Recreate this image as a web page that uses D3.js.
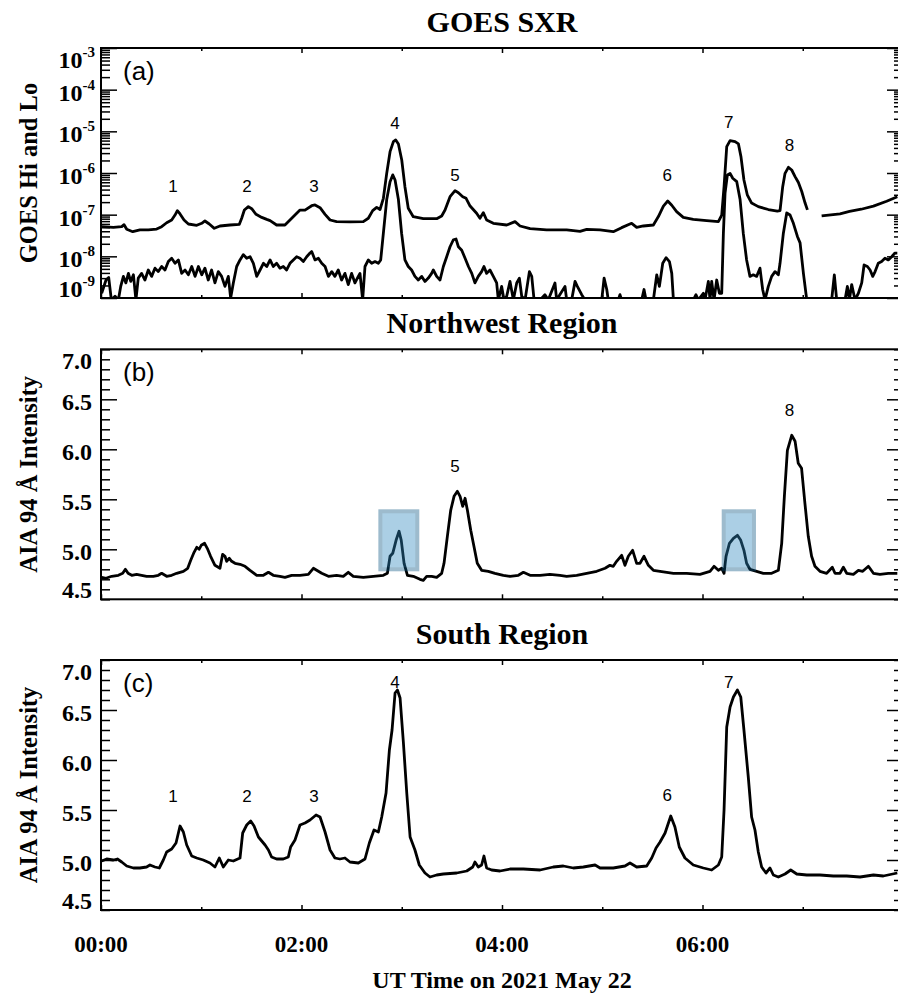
<!DOCTYPE html>
<html>
<head>
<meta charset="utf-8">
<script src="https://cdn.jsdelivr.net/npm/d3@7"></script>
<style>
    body { margin: 0; background: #ffffff; }
    svg text { font-family: "Liberation Serif", "Times New Roman", serif; }
</style>
</head>
<body>
<svg id="chart" width="898" height="994"></svg>
<script>
//Time axis (minutes after 00:00 UT)
const timeDomain = [0, 480];
const evenHourTicks = [0, 120, 240, 360, 480];
const oddHourTicks = [60, 180, 300, 420];
const timeLabels = ["00:00", "02:00", "04:00", "06:00"];

//GOES 1-8 A (upper curve), [minute, W m^-2], null = data gap
const goesLo = [[0.0,5.15e-8],[7.4,4.97e-8],[12.4,5.15e-8],[13.8,5.75e-8],[15.4,4.45e-8],[19.0,3.9e-8],[23.3,4.3e-8],[28.3,4.3e-8],
    [33.3,4.5e-8],[36.3,5.15e-8],[39.3,6.4e-8],[42.3,7.45e-8],[44.3,9.8e-8],[45.7,1.25e-7],[47.3,1.04e-7],[49.7,7.45e-8],
    [52.3,5.97e-8],[57.3,5.55e-8],[60.3,6.2e-8],[62.2,7.05e-8],[64.8,5.97e-8],[67.8,4.7e-8],[71.2,5.35e-8],[77.2,5.65e-8],
    [82.8,5.86e-8],[84.2,8.2e-8],[85.8,1.29e-7],[88.2,1.56e-7],[90.2,1.39e-7],[92.8,1.02e-7],[96.2,8.6e-8],[99.2,7.7e-8],
    [101.2,7.2e-8],[105.1,5.65e-8],[110.1,5.65e-8],[113.1,7.45e-8],[116.1,9.8e-8],[119.1,1.29e-7],[122.1,1.29e-7],[126.1,1.64e-7],
    [128.1,1.71e-7],[131.1,1.47e-7],[134.1,1.02e-7],[137.1,7.45e-8],[141.0,6.8e-8],[149.0,6.7e-8],[157.0,6.8e-8],[160.0,8.2e-8],
    [162.6,1.25e-7],[165.0,1.5e-7],[167.0,1.33e-7],[169.0,2.47e-7],[171.0,9.8e-7],[173.0,3.25e-6],[175.0,5.65e-6],[176.4,6.2e-6],
    [178.0,4.97e-6],[180.0,2.05e-6],[181.9,4.7e-7],[183.9,1.42e-7],[186.9,8.95e-8],[192.9,8.0e-8],[200.9,8.0e-8],[203.9,9.3e-8],
    [205.9,1.29e-7],[208.9,2.7e-7],[211.9,3.77e-7],[213.9,3.37e-7],[216.5,2.7e-7],[218.5,2.47e-7],[220.9,1.61e-7],[224.8,1.08e-7],
    [226.8,8.2e-8],[228.8,1.12e-7],[230.8,7.45e-8],[234.8,6.2e-8],[242.8,5.65e-8],[247.8,6.8e-8],[250.8,5.35e-8],[256.8,4.6e-8],
    [266.7,4.3e-8],[278.7,4.3e-8],[286.7,3.98e-8],[290.7,4.45e-8],[298.7,4.3e-8],[306.6,3.9e-8],[311.6,4.88e-8],[317.6,6.2e-8],
    [320.6,4.97e-8],[324.6,5.35e-8],[330.6,5.65e-8],[333.6,9.0e-8],[336.6,1.61e-7],[339.2,2.13e-7],[341.6,1.68e-7],[344.5,1.18e-7],
    [348.5,8.6e-8],[354.5,7.7e-8],[362.5,7.2e-8],[369.5,6.8e-8],[371.5,9.8e-8],[372.9,4.7e-7],[374.5,4.29e-6],[376.5,5.97e-6],
    [379.5,5.65e-6],[381.5,5.0e-6],[383.0,2.5e-6],[384.8,6.8e-7],[386.8,3.0e-7],[389.4,1.9e-7],[393.4,1.56e-7],[399.4,1.33e-7],
    [404.8,1.22e-7],[406.4,1.25e-7],[408.0,4.7e-7],[409.4,9.8e-7],[411.4,1.37e-6],[413.4,1.18e-6],[415.4,8.2e-7],[417.4,5.9e-7],
    [419.4,3.6e-7],[421.4,1.9e-7],[422.8,1.3e-7],[426.0,null],[431.3,9.3e-8],[442.3,1.05e-7],[448.0,1.2e-7],[455.0,1.35e-7],
    [462.3,1.6e-7],[470.2,2.1e-7],[476.6,2.7e-7]];

//GOES 0.5-4 A (lower curve), [minute, W m^-2], null = data gap
const goesHi = [[0.4,1.3e-9],[3.0,2.7e-9],[4.6,3.1e-9],[6.2,9e-10],[8.4,1.1e-9],[10.4,9e-10],[11.8,1.9e-9],[13.4,3.3e-9],
    [14.9,2.3e-9],[16.4,3.9e-9],[17.8,2.5e-9],[19.4,3.6e-9],[20.9,9e-10],[22.3,3.0e-9],[24.3,3.9e-9],[26.3,2.7e-9],[28.3,4.7e-9],
    [30.3,3.3e-9],[32.3,5.2e-9],[34.3,4.3e-9],[36.3,5.7e-9],[38.3,4.7e-9],[40.3,7.5e-9],[42.3,9.0e-9],[44.3,6.8e-9],[46.3,8.2e-9],
    [48.3,3.9e-9],[50.3,4.7e-9],[52.3,3.6e-9],[54.3,5.7e-9],[56.3,3.3e-9],[58.3,5.7e-9],[60.3,3.6e-9],[62.2,5.2e-9],[64.2,2.7e-9],
    [66.2,4.7e-9],[68.2,2.3e-9],[70.2,4.3e-9],[72.2,3.3e-9],[74.2,1.9e-9],[76.2,3.3e-9],[77.6,1.0e-9],[79.2,2.3e-9],[81.2,5.7e-9],
    [83.2,8.2e-9],[85.2,1.1e-8],[87.2,9.0e-9],[89.2,9.8e-9],[91.2,6.8e-9],[93.2,3.3e-9],[95.2,4.7e-9],[97.2,6.8e-9],[99.2,5.7e-9],
    [101.2,8.2e-9],[103.1,5.7e-9],[105.1,6.8e-9],[107.1,5.2e-9],[109.1,5.7e-9],[111.1,4.7e-9],[113.1,6.8e-9],[115.1,8.2e-9],
    [117.1,9.8e-9],[119.1,9.0e-9],[121.1,7.5e-9],[123.1,9.8e-9],[125.1,1.2e-8],[126.1,1.3e-8],[128.1,8.2e-9],[130.1,9.0e-9],
    [132.1,6.8e-9],[134.1,5.7e-9],[136.1,3.3e-9],[138.1,4.3e-9],[140.0,3.3e-9],[142.0,4.7e-9],[144.0,2.7e-9],[146.0,3.9e-9],
    [148.0,2.1e-9],[150.0,3.9e-9],[152.0,2.3e-9],[154.0,3.3e-9],[155.0,3.9e-9],[156.6,9e-10],[158.0,5.7e-9],[160.0,8.2e-9],
    [162.0,6.8e-9],[164.0,7.5e-9],[166.0,6.8e-9],[167.4,8.2e-9],[169.0,3.6e-8],[171.0,2.3e-7],[173.0,6.2e-7],[174.6,9.0e-7],
    [176.0,6.8e-7],[178.0,2.3e-7],[179.9,3.6e-8],[181.9,8.2e-9],[183.9,5.7e-9],[185.9,4.7e-9],[187.9,3.3e-9],[189.9,2.7e-9],
    [191.9,3.3e-9],[193.9,2.5e-9],[195.9,3.0e-9],[197.9,3.9e-9],[198.9,4.7e-9],[200.9,3.3e-9],[202.9,2.7e-9],[204.9,5.7e-9],
    [206.9,9.8e-9],[208.9,1.7e-8],[210.9,2.5e-8],[212.5,2.6e-8],[213.9,1.7e-8],[215.9,1.4e-8],[217.9,9.0e-9],[219.9,5.7e-9],
    [221.9,3.9e-9],[223.8,2.3e-9],[225.8,3.3e-9],[227.8,4.3e-9],[229.2,5.7e-9],[230.8,3.9e-9],[232.8,4.7e-9],[234.8,3.3e-9],
    [236.8,2.3e-9],[237.8,9e-10],[239.8,1.9e-9],[241.2,9e-10],[242.8,1.1e-9],[244.8,2.5e-9],[246.8,9e-10],[248.8,2.3e-9],
    [250.4,3.0e-9],[251.8,1.1e-9],[253.8,9e-10],[256.4,4.3e-9],[257.8,3.3e-9],[259.2,9e-10],[262.8,9e-10],[265.7,1.2e-9],
    [267.7,9e-10],[271.7,2.3e-9],[272.7,9e-10],[277.7,1.9e-9],[278.7,9e-10],[281.7,9e-10],[283.7,2.5e-9],[285.1,1.9e-9],
    [287.7,1.2e-9],[289.7,9e-10],[299.7,9e-10],[301.1,3.0e-9],[302.7,1.6e-9],[303.6,9e-10],[309.6,9e-10],[310.6,1.2e-9],
    [311.6,9e-10],[323.6,9e-10],[325.0,1.6e-9],[326.2,9e-10],[330.6,9e-10],[332.6,3.6e-9],[334.2,1.9e-9],[336.2,6.8e-9],
    [338.2,9.3e-9],[340.2,7.5e-9],[341.6,3.9e-9],[342.6,9e-10],[354.5,9e-10],[356.1,1.2e-9],[357.5,9e-10],[360.5,1.3e-9],
    [361.5,9e-10],[363.5,2.5e-9],[364.5,9e-10],[365.5,2.5e-9],[366.9,9e-10],[368.5,2.7e-9],[370.1,1.3e-9],[371.5,1.3e-9],
    [372.5,3.6e-8],[373.5,3.3e-7],[374.9,9.0e-7],[376.5,9.8e-7],[378.1,7.5e-7],[380.5,6.2e-7],[382.5,2.3e-7],[384.4,3.6e-8],
    [386.4,8.2e-9],[388.4,3.3e-9],[390.4,3.6e-9],[392.4,3.3e-9],[394.4,5.2e-9],[396.0,1.6e-9],[397.4,9e-10],[399.4,1.9e-9],
    [401.4,3.3e-9],[403.4,4.3e-9],[405.4,3.6e-9],[406.4,6.8e-9],[408.4,3.6e-8],[410.4,1.1e-7],[412.4,9.8e-8],[414.4,6.2e-8],
    [416.8,3.0e-8],[418.4,2.1e-8],[420.4,3.9e-9],[422.4,9e-10],[426.0,null],[431.3,9e-10],[437.3,9e-10],[438.9,3.6e-9],
    [440.3,9e-10],[445.3,9e-10],[446.7,1.9e-9],[447.9,9e-10],[449.3,2.1e-9],[451.3,9e-10],[453.3,1.3e-9],[455.3,2.3e-9],
    [456.7,6.2e-9],[458.7,5.7e-9],[460.3,4.7e-9],[461.9,3.3e-9],[463.3,4.3e-9],[465.2,6.8e-9],[467.2,7.5e-9],[469.2,9.0e-9],
    [471.2,8.2e-9],[473.2,9.8e-9],[475.2,1.2e-8],[476.6,1.2e-8]];

//AIA 94 A, Northwest region [minute, intensity]
const northwest = [[0.4,4.72],[3.0,4.71],[6.4,4.73],[10.4,4.74],[13.0,4.76],[14.6,4.80],[16.2,4.76],[18.4,4.74],[21.3,4.75],
    [24.3,4.74],[27.3,4.73],[31.3,4.73],[34.3,4.74],[36.3,4.76],[39.3,4.73],[42.3,4.74],[45.3,4.76],[49.3,4.78],[51.9,4.81],
    [53.7,4.89],[55.7,4.97],[57.3,5.02],[58.7,5.00],[60.0,5.04],[62.0,5.06],[63.6,5.01],[65.6,4.93],[68.2,4.84],[71.2,4.81],
    [72.8,4.95],[74.2,4.93],[75.2,4.88],[76.8,4.91],[78.2,4.88],[80.2,4.86],[83.2,4.85],[86.2,4.83],[89.2,4.79],[93.2,4.74],
    [97.2,4.74],[100.2,4.77],[103.1,4.74],[107.1,4.73],[110.1,4.72],[114.1,4.74],[119.1,4.74],[124.1,4.75],[127.1,4.81],
    [129.1,4.79],[132.1,4.76],[136.1,4.73],[141.0,4.74],[145.0,4.73],[148.0,4.77],[151.0,4.73],[157.0,4.72],[163.0,4.73],
    [169.0,4.74],[171.4,4.76],[173.0,4.93],[174.6,4.96],[176.6,5.09],[178.4,5.18],[179.7,5.09],[181.4,4.86],[183.4,4.74],
    [186.9,4.73],[190.9,4.70],[192.9,4.69],[194.9,4.73],[197.9,4.73],[200.9,4.72],[203.9,4.76],[205.3,4.86],[207.3,5.13],
    [209.3,5.39],[211.3,5.53],[213.3,5.58],[214.9,5.53],[216.5,5.43],[217.9,5.51],[219.3,5.39],[221.3,5.19],[223.2,5.03],
    [225.2,4.86],[227.8,4.79],[231.8,4.78],[235.8,4.76],[240.8,4.74],[244.8,4.73],[249.8,4.74],[252.8,4.77],[256.8,4.74],
    [262.8,4.74],[268.7,4.75],[274.7,4.74],[278.7,4.73],[284.7,4.74],[290.7,4.76],[296.7,4.78],[301.7,4.81],[304.6,4.84],
    [306.6,4.83],[308.6,4.88],[311.6,4.94],[313.6,4.84],[315.6,4.93],[318.2,4.99],[320.6,4.86],[322.6,4.86],[325.0,4.93],
    [327.6,4.84],[330.6,4.79],[334.6,4.78],[342.6,4.76],[350.5,4.76],[358.5,4.75],[364.5,4.78],[366.9,4.83],[369.5,4.79],
    [371.5,4.81],[372.9,4.76],[374.1,4.93],[376.1,5.06],[378.5,5.11],[380.9,5.14],[382.9,5.09],[384.8,4.99],[386.4,4.86],
    [388.4,4.80],[392.4,4.78],[396.4,4.76],[401.4,4.76],[405.4,4.79],[407.4,5.06],[409.0,5.53],[410.8,5.99],[413.4,6.14],
    [415.4,6.08],[417.3,5.86],[419.3,5.81],[421.3,5.46],[423.3,5.13],[425.3,4.93],[427.3,4.83],[430.3,4.78],[434.3,4.76],
    [437.7,4.82],[439.3,4.76],[442.3,4.76],[444.3,4.82],[446.3,4.76],[450.3,4.75],[453.3,4.79],[455.9,4.78],[459.3,4.83],
    [462.3,4.76],[466.2,4.75],[471.2,4.76],[476.6,4.76]];

//AIA 94 A, South region [minute, intensity]
const south = [[0.4,4.99],[3.4,5.01],[7.4,5.00],[9.8,5.01],[12.4,4.98],[15.4,4.94],[19.4,4.92],[23.3,4.92],[27.3,4.93],
    [29.3,4.95],[32.3,4.93],[34.9,4.92],[37.3,5.00],[39.3,5.08],[42.3,5.11],[44.9,5.17],[47.3,5.34],[49.3,5.28],[51.3,5.15],
    [54.3,5.04],[57.3,5.02],[61.2,5.00],[65.2,4.97],[68.2,4.93],[70.8,5.02],[73.2,4.93],[76.2,5.00],[79.2,4.99],[83.2,5.02],
    [84.8,5.27],[87.2,5.35],[89.6,5.39],[91.6,5.34],[94.2,5.23],[98.2,5.15],[100.2,5.10],[102.1,5.03],[105.1,5.01],[109.1,5.01],
    [112.1,5.03],[113.5,5.13],[116.1,5.20],[119.1,5.35],[122.1,5.37],[125.1,5.40],[128.7,5.45],[131.1,5.43],[134.1,5.28],
    [137.1,5.10],[140.0,5.02],[143.0,5.01],[146.0,5.02],[149.0,4.98],[154.0,4.97],[158.0,5.01],[160.6,5.17],[163.4,5.30],
    [166.0,5.28],[168.0,5.43],[170.6,5.67],[172.6,6.10],[174.2,6.30],[176.0,6.67],[177.4,6.70],[179.0,6.62],[181.0,6.17],
    [183.0,5.67],[185.0,5.23],[187.9,5.10],[190.5,4.95],[193.9,4.87],[196.9,4.83],[200.9,4.85],[204.9,4.86],[212.9,4.87],
    [218.9,4.89],[222.5,4.93],[223.8,4.98],[225.8,4.93],[227.8,4.95],[229.2,5.04],[230.8,4.92],[233.8,4.90],[238.8,4.89],
    [244.8,4.91],[252.8,4.91],[262.8,4.90],[270.7,4.93],[276.7,4.94],[282.7,4.92],[288.7,4.93],[295.7,4.95],[298.7,4.92],
    [306.6,4.92],[313.6,4.94],[316.6,4.97],[320.6,4.93],[326.6,4.94],[329.6,5.02],[332.2,5.12],[334.6,5.18],[337.6,5.27],
    [341.0,5.44],[343.5,5.33],[346.1,5.13],[349.5,5.02],[354.5,4.95],[360.5,4.92],[365.5,4.90],[369.5,4.95],[371.5,5.03],
    [372.9,5.50],[374.5,6.33],[376.5,6.53],[378.5,6.63],[380.9,6.70],[382.9,6.63],[384.8,6.30],[387.4,5.83],[389.4,5.43],
    [391.4,5.30],[393.4,5.08],[395.4,4.93],[398.0,4.87],[400.4,4.92],[402.4,4.85],[405.4,4.83],[409.4,4.86],[412.8,4.90],
    [416.4,4.86],[422.4,4.85],[430.3,4.85],[438.3,4.84],[446.3,4.84],[454.3,4.83],[462.3,4.85],[468.2,4.84],[476.6,4.87]];

//Flux decades and intensity ticks
const fluxDecades = [-9, -8, -7, -6, -5, -4, -3];
const intensityLabels = [4.5, 5.0, 5.5, 6.0, 6.5, 7.0];
const intensityMajor = [5.0, 5.5, 6.0, 6.5];
const intensityDomain = [4.5, 7.0];

//Highlighted intervals in panel (b): [start, end] minutes, and intensity range
const highlightTimes = [[166, 190.5], [371.5, 392]];
const highlightRange = [4.78, 5.40];

//Event numbers [label, minute, value]
const goesEvents = [["1",43.1,3.56e-7],["2",87.4,3.56e-7],["3",127.5,3.56e-7],["4",176.0,1.14e-5],
    ["5",211.9,6.5e-7],["6",338.9,6.5e-7],["7",375.7,1.18e-5],["8",412.0,3.37e-6]];
const northwestEvents = [["5",211.9,5.77],["8",412.0,6.33]];
const southEvents = [["1",43.1,5.58],["2",87.4,5.58],["3",127.5,5.58],["4",176.0,6.72],["6",338.9,5.59],["7",375.7,6.72]];

//Layout
const plotLeft = 101, plotRight = 903, plotHeight = 250;
const panelTops = [48, 349.3, 660];

let svg = d3.select("#chart");
let x = d3.scaleLinear().domain(timeDomain).range([plotLeft, plotRight]);

let panels = [
    {key: "a", title: "GOES SXR", ylabel: "GOES Hi and Lo", top: panelTops[0],
        y: d3.scaleLog().domain([1e-9, 1e-3]).range([panelTops[0] + plotHeight, panelTops[0]])},
    {key: "b", title: "Northwest Region", ylabel: "AIA 94 Å Intensity", top: panelTops[1],
        y: d3.scaleLinear().domain(intensityDomain).range([panelTops[1] + plotHeight, panelTops[1]])},
    {key: "c", title: "South Region", ylabel: "AIA 94 Å Intensity", top: panelTops[2],
        y: d3.scaleLinear().domain(intensityDomain).range([panelTops[2] + plotHeight, panelTops[2]])}
];

panels.forEach(p => {
    p.bottom = p.top + plotHeight;
    p.g = svg.append("g").attr("class", "panel-" + p.key);

    svg.append("defs").append("clipPath").attr("id", "clip-" + p.key)
        .append("rect").attr("x", plotLeft).attr("y", p.top)
        .attr("width", plotRight - plotLeft).attr("height", plotHeight);

    //Title
    p.g.append("text").attr("x", (plotLeft + plotRight) / 2).attr("y", p.top - 16.5)
        .attr("text-anchor", "middle").attr("font-size", "30px").attr("font-weight", "bold")
        .text(p.title);

    //Y-Axis Title
    p.g.append("text")
        .attr("transform", "translate(37," + (p.top + plotHeight / 2) + ") rotate(-90)")
        .attr("text-anchor", "middle").attr("font-size", "24.5px").attr("font-weight", "bold")
        .text(p.ylabel);

    //Panel Letter
    p.g.append("text").attr("x", 123).attr("y", p.top + 32)
        .style("font-family", "'Liberation Sans', Arial, sans-serif").attr("font-size", "26px")
        .text("(" + p.key + ")");

    addTimeTicks(p);
});

function addTimeTicks(p) {
    [[evenHourTicks, -5], [oddHourTicks, -3]].forEach(([vals, size]) => {
        p.g.append("g").attr("transform", "translate(0," + p.bottom + ")")
            .call(d3.axisBottom(x).tickValues(vals).tickSize(size).tickFormat(""))
            .call(g => g.select(".domain").remove());
        p.g.append("g").attr("transform", "translate(0," + p.top + ")")
            .call(d3.axisTop(x).tickValues(vals).tickSize(size).tickFormat(""))
            .call(g => g.select(".domain").remove());
    });
}

function addValueTicks(p, major, minor) {
    [[major, -16], [minor, -9]].forEach(([vals, size]) => {
        p.g.append("g").attr("transform", "translate(" + plotLeft + ",0)")
            .call(d3.axisLeft(p.y).tickValues(vals).tickSize(size).tickFormat(""))
            .call(g => g.select(".domain").remove());
        p.g.append("g").attr("transform", "translate(" + plotRight + ",0)")
            .call(d3.axisRight(p.y).tickValues(vals).tickSize(size).tickFormat(""))
            .call(g => g.select(".domain").remove());
    });
    p.g.selectAll(".tick line").attr("stroke-width", 1.5);
}

//Labels sit just under their tick, kept inside the frame at the ends
function labelBaseline(p, v) {
    return Math.min(Math.max(p.y(v) + 11, p.top + 20), p.bottom - 1);
}

//Panel (a): log flux axis
let pa = panels[0];
let fluxMinor = [];
fluxDecades.slice(0, -1).forEach(d => {
    for (let k = 2; k <= 9; k++) fluxMinor.push(k * Math.pow(10, d));
});
addValueTicks(pa, fluxDecades.map(d => Math.pow(10, d)), fluxMinor);

fluxDecades.forEach(d => {
    let t = pa.g.append("text").attr("x", 95).attr("y", labelBaseline(pa, Math.pow(10, d)))
        .attr("text-anchor", "end").attr("font-weight", "bold").attr("font-size", "24px");
    t.append("tspan").text("10");
    t.append("tspan").attr("dy", -11).attr("font-size", "15px").text(d);
});

//Panels (b), (c): linear intensity axis
let intensityMinor = d3.range(45, 71).map(v => v / 10).filter(v => intensityMajor.indexOf(v) < 0);
panels.slice(1).forEach(p => {
    addValueTicks(p, intensityMajor, intensityMinor);
    intensityLabels.forEach(v => {
        p.g.append("text").attr("x", 92).attr("y", labelBaseline(p, v))
            .attr("text-anchor", "end").attr("font-weight", "bold").attr("font-size", "24px")
            .text(d3.format(".1f")(v));
    });
});

//Curves
function drawSeries(p, data) {
    let line = d3.line()
        .defined(d => d[1] !== null)
        .x(d => x(d[0]))
        .y(d => p.y(d[1]));
    p.g.append("path").datum(data)
        .attr("clip-path", "url(#clip-" + p.key + ")")
        .attr("fill", "none").attr("stroke", "#000").attr("stroke-width", 2.8)
        .attr("stroke-linejoin", "round")
        .attr("d", line);
}

drawSeries(panels[0], goesLo);
drawSeries(panels[0], goesHi);
drawSeries(panels[1], northwest);
drawSeries(panels[2], south);

//Highlight Boxes
let pb = panels[1];
highlightTimes.forEach(([t0, t1]) => {
    let bx = x(t0), bw = x(t1) - x(t0);
    let by = pb.y(highlightRange[1]), bh = pb.y(highlightRange[0]) - pb.y(highlightRange[1]);
    let hg = pb.g.append("g").attr("opacity", 0.4);
    hg.append("rect").attr("x", bx).attr("y", by).attr("width", bw).attr("height", bh)
        .attr("fill", "rgb(12,87,132)");
    hg.append("rect").attr("x", bx + 4).attr("y", by + 4).attr("width", bw - 8).attr("height", bh - 8)
        .attr("fill", "rgb(47,137,192)");
});

//Event Numbers
[[panels[0], goesEvents], [panels[1], northwestEvents], [panels[2], southEvents]].forEach(([p, ev]) => {
    p.g.selectAll(".event").data(ev).enter().append("text").attr("class", "event")
        .attr("x", d => x(d[1])).attr("y", d => p.y(d[2]))
        .attr("text-anchor", "middle")
        .style("font-family", "'Liberation Sans', Arial, sans-serif").attr("font-size", "17px")
        .text(d => d[0]);
});

//Frames
panels.forEach(p => {
    p.g.append("rect").attr("x", plotLeft).attr("y", p.top)
        .attr("width", plotRight - plotLeft).attr("height", plotHeight)
        .attr("fill", "none").attr("stroke", "#000").attr("stroke-width", 2);
});

//Time Labels Under Bottom Panel
let pc = panels[2];
pc.g.selectAll(".time-label").data(timeLabels).enter().append("text").attr("class", "time-label")
    .attr("x", (d, i) => x(evenHourTicks[i])).attr("y", pc.bottom + 42)
    .attr("text-anchor", "middle").attr("font-weight", "bold").attr("font-size", "23px")
    .text(d => d);

pc.g.append("text").attr("x", (plotLeft + plotRight) / 2).attr("y", pc.bottom + 78)
    .attr("text-anchor", "middle").attr("font-weight", "bold").attr("font-size", "24px")
    .text("UT Time on 2021 May 22");
</script>
</body>
</html>
